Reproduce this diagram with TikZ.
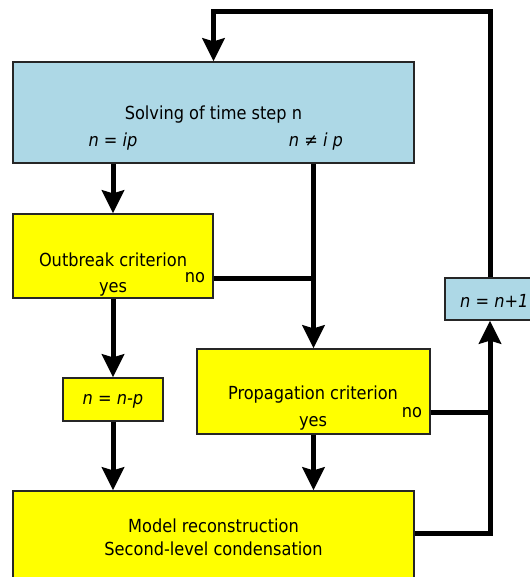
\documentclass[tikz,border=0pt]{standalone}
\usepackage{fontspec}
\setmainfont{DejaVu Sans Condensed}
\usetikzlibrary{positioning,arrows.meta}
\definecolor{boxblue}{HTML}{ADD8E6}
\definecolor{boxyellow}{HTML}{FFFF00}
\tikzset{%
    block/.style={
      rectangle,
      draw=black!85,
      line width=1.2pt,
      inner sep=0pt
    },
    lbl/.style={
      inner sep=0pt,
      font=\fontsize{18}{23}\selectfont
    },
    flow/.style={
      line width=5pt,
      -{Stealth[length=23pt,width=22pt,inset=3pt]}
    },
    wire/.style={
      line width=5pt
    }
  }
\begin{document}
\begin{tikzpicture}[x=1pt, y=-1pt]
      \useasboundingbox (0,0) rectangle (529,577);

      \node [block, fill=boxblue, minimum width=401pt, minimum height=101pt] (solve) at (213.5,112.5) {};
      \node [block, fill=boxyellow, minimum width=200pt, minimum height=84pt] (outbreak) at (113,256) {};
      \node [block, fill=boxyellow, minimum width=100pt, minimum height=43pt] (nminus) at (113,399.5) {};
      \node [block, fill=boxyellow, minimum width=233pt, minimum height=85pt] (propag) at (313.5,391.5) {};
      \node [block, fill=boxyellow, minimum width=401pt, minimum height=100pt] (model) at (213.5,541) {};
      \node [block, fill=boxblue, minimum width=90pt, minimum height=42pt] (nplus) at (490,299) {};

      \node [lbl] (solvetxt) at (213.5,115) {Solving of time step n};
      \node [lbl] (eqip) at (113,142) {\itshape n = ip};
      \node [lbl] (neqip) at (316,142) {\itshape n ≠ i p};

      \node [lbl] (outtxt) at (113,260) {Outbreak criterion};
      \node [lbl] (outno) at (195,278) {no};
      \node [lbl] (outyes) at (113,289) {yes};

      \node [lbl] (nminustxt) at (113,401) {\itshape n = n-p};

      \node [lbl] (proptxt) at (313,395) {Propagation criterion};
      \node [lbl] (propno) at (412,413) {no};
      \node [lbl] (propyes) at (313,423) {yes};

      \node [lbl, align=center] (modeltxt) at (213.5,537.5) {Model reconstruction\\Second-level condensation};

      \node [lbl, anchor=west] (nplustxt) at (460,301) {\itshape n = n+1};

      \coordinate (looptop) at (490,12);

      \draw [flow] (solve.south -| outbreak.north) -- (outbreak.north);
      \draw [flow] (outbreak.south) -- (nminus.north);
      \draw [flow] (nminus.south) -- (nminus.south |- model.north);

      \draw [flow] (solve.south -| propag.north) -- (propag.north);
      \draw [wire] ([yshift=-22pt]outbreak.east) -- ([yshift=-22pt]outbreak.east -| propag.north);
      \draw [flow] (propag.south) -- (propag.south |- model.north);

      \draw [wire] ([yshift=-20.5pt]propag.east) -- ([yshift=-20.5pt]propag.east -| nplus.south);
      \draw [flow] ([yshift=8pt]model.east) -| (nplus.south);
      \draw [flow] (nplus.north) -- (looptop) -| (solve.north);
    \end{tikzpicture}
\end{document}
